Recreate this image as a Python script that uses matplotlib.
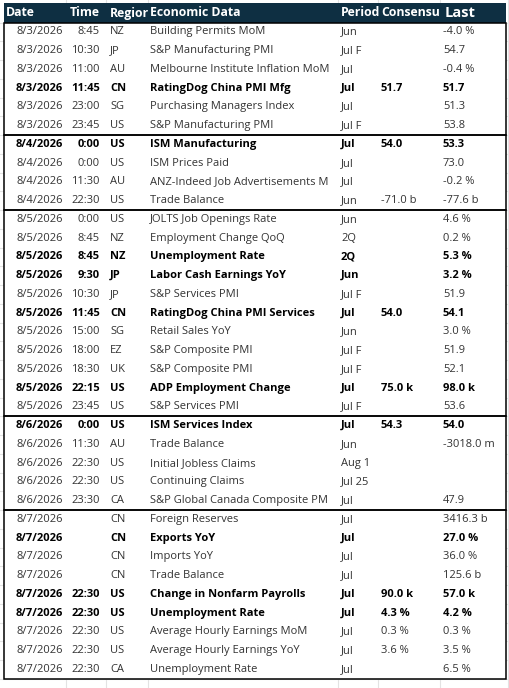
import matplotlib
matplotlib.use("Agg")
import matplotlib.pyplot as plt
from matplotlib.patches import Rectangle

headers = ["Date", "Time", "Regior", "Economic Data", "Period", "Consensu", "Last"]
dates = ["8/3/2026"]*6 + ["8/4/2026"]*4 + ["8/5/2026"]*11 + ["8/6/2026"]*5 + ["8/7/2026"]*9
times = ["8:45","10:30","11:00","11:45","23:00","23:45",
         "0:00","0:00","11:30","22:30",
         "0:00","8:45","8:45","9:30","10:30","11:45","15:00","18:00","18:30","22:15","23:45",
         "0:00","11:30","22:30","22:30","23:30",
         "","","","","22:30","22:30","22:30","22:30","22:30"]
regions = ["NZ","JP","AU","CN","SG","US",
           "US","US","AU","US",
           "US","NZ","NZ","JP","JP","CN","SG","EZ","UK","US","US",
           "US","AU","US","US","CA",
           "CN","CN","CN","CN","US","US","US","US","CA"]
events = ["Building Permits MoM","S&P Manufacturing PMI","Melbourne Institute Inflation MoM",
          "RatingDog China PMI Mfg","Purchasing Managers Index","S&P Manufacturing PMI",
          "ISM Manufacturing","ISM Prices Paid","ANZ-Indeed Job Advertisements M","Trade Balance",
          "JOLTS Job Openings Rate","Employment Change QoQ","Unemployment Rate","Labor Cash Earnings YoY",
          "S&P Services PMI","RatingDog China PMI Services","Retail Sales YoY","S&P Composite PMI",
          "S&P Composite PMI","ADP Employment Change","S&P Services PMI",
          "ISM Services Index","Trade Balance","Initial Jobless Claims","Continuing Claims",
          "S&P Global Canada Composite PM",
          "Foreign Reserves","Exports YoY","Imports YoY","Trade Balance","Change in Nonfarm Payrolls",
          "Unemployment Rate","Average Hourly Earnings MoM","Average Hourly Earnings YoY","Unemployment Rate"]
periods = ["Jun","Jul F","Jul","Jul","Jul","Jul F",
           "Jul","Jul","Jul","Jun",
           "Jun","2Q","2Q","Jun","Jul F","Jul","Jun","Jul F","Jul F","Jul","Jul F",
           "Jul","Jun","Aug 1","Jul 25","Jul",
           "Jul","Jul","Jul","Jul","Jul","Jul","Jul","Jul","Jul"]
consensus = ["","","","51.7","","",
             "54.0","","","-71.0 b",
             "","","","","","54.0","","","","75.0 k","",
             "54.3","","","","",
             "","","","","90.0 k","4.3 %","0.3 %","3.6 %",""]
last = ["-4.0 %","54.7","-0.4 %","51.7","51.3","53.8",
        "53.3","73.0","-0.2 %","-77.6 b",
        "4.6 %","0.2 %","5.3 %","3.2 %","51.9","54.1","3.0 %","51.9","52.1","98.0 k","53.6",
        "54.0","-3018.0 m","","","47.9",
        "3416.3 b","27.0 %","36.0 %","125.6 b","57.0 k","4.2 %","0.3 %","3.5 %","6.5 %"]
bold = [3,6,12,13,15,19,21,27,30,31]
groups = [(0,6),(6,10),(10,21),(21,26),(26,35)]

W, H = 510, 688
fig = plt.figure(figsize=(W/100, H/100), dpi=100)
ax = fig.add_axes([0,0,1,1])
ax.set_xlim(0, W); ax.set_ylim(H, 0); ax.axis("off")
FONT = "Open Sans"
top, rh = 22.5, 18.75
n = len(events)
grid = "#e3e3e3"
for x in [66,106,148,338,378,440,508]:
    ax.plot([x,x],[0,H], color=grid, lw=0.8, zorder=0)
for i in range(n+3):
    y = top + i*rh
    ax.plot([0,W],[y,y], color=grid, lw=0.8, zorder=0)
bottom = top + n*rh
ax.add_patch(Rectangle((4,3), 502, bottom-3, facecolor="white", edgecolor="none", zorder=1))
ax.add_patch(Rectangle((4,3), 502, top-3, facecolor="#0e2f42", edgecolor="none", zorder=2))
hx = [6,70,110,150,341,381,445]
for x, h in zip(hx, headers):
    ax.text(x, 13, h, color="white", fontsize=10.5 if h=="Last" else 8.8, fontweight="bold",
            va="center", ha="left", family=FONT, zorder=3)
clip = Rectangle((148, 0), 190, H, transform=ax.transData)
for a, b in groups:
    ax.add_patch(Rectangle((4, top+a*rh), 502, (b-a)*rh, facecolor="none",
                           edgecolor="black", lw=1.1, zorder=4))
for i in range(n):
    y = top + (i+0.5)*rh
    b = i in bold
    fw = "bold" if b else "normal"
    c = "black" if b else "#333333"
    kw = dict(fontsize=8.0, fontweight=fw, color=c, va="center", family=FONT, zorder=3)
    ax.text(63, y, dates[i], ha="right", **kw)
    ax.text(100, y, times[i], ha="right", **kw)
    ax.text(110, y, regions[i], ha="left", **kw)
    t = ax.text(150, y, events[i], ha="left", **kw)
    t.set_clip_path(clip)
    ax.text(341, y, periods[i], ha="left", **kw)
    ax.text(381, y, consensus[i], ha="left", **kw)
    ax.text(443, y, last[i], ha="left", **kw)
fig.savefig("out.png", dpi=100)
